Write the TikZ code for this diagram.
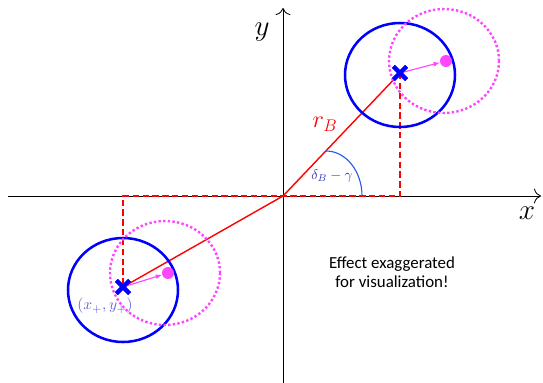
\documentclass[tikz,border=0pt]{standalone}
\usepackage{fontspec}
\newfontfamily\notefont{Carlito}
\usetikzlibrary{arrows.meta, shapes.misc}
\definecolor{spotpink}{RGB}{255,70,255}
\definecolor{anglecol}{RGB}{40,90,235}
\definecolor{anglelab}{RGB}{50,50,180}
\definecolor{poslab}{RGB}{95,95,225}
\tikzset{
    axisline/.style={semithick, -{To[length=5pt]}},
    footline/.style={red, line width=1pt, dash pattern=on 4.5pt off 2.5pt},
    bluering/.style={blue, line width=1.8pt},
    pinkring/.style={spotpink, line width=1.7pt, dash pattern=on 1.7pt off 1.6pt},
    xmark/.style={cross out, draw=blue, line width=2.8pt, minimum size=6.5pt, inner sep=0pt},
    spot/.style={circle, fill=spotpink, minimum size=8.5pt, inner sep=0pt},
    shiftarrow/.style={spotpink, thick, -{Latex[length=4.5pt, width=3.5pt]}}
}
\begin{document}
\begin{tikzpicture}[x=0.025cm, y=0.025cm]
    \useasboundingbox (-283,-186) rectangle (260,196);
    %%% Axes
    \coordinate (O) at (0,0);
    \coordinate (xstart) at (-275,0);
    \coordinate (xend) at (258,0);
    \coordinate (ystart) at (0,-188);
    \coordinate (yend) at (0,188);
    \draw[axisline] (xstart) -- (xend);
    \draw[axisline] (ystart) -- (yend);
    \node (xlabel) at (244,-17) {\huge $x$};
    \node (ylabel) at (-21,164) {\huge $y$};
    %
    %%% Projections and radius
    \coordinate (Afoot) at (117,0);
    \coordinate (Bfoot) at (-160,0);
    \node[xmark] (A) at (117,123) {};
    \node[xmark] (B) at (-160,-91) {};
    \draw[footline] (A.center) -- (Afoot) -- (Bfoot) -- (B.center);
    \draw[red, line width=1pt] (B.center) -- (O) -- (A.center);
    \node[red] (rlabel) at (42,72) {\LARGE $r_B$};
    %
    \coordinate (arcstart) at (43,45);
    \draw[anglecol, thick] (arcstart) arc[start angle=90, end angle=0, x radius=36, y radius=45];
    \node[anglelab] (anglelabel) at (49,20) {$\delta_B-\gamma$};
    %
    %%% Upper position
    \draw[bluering] (117,121) ellipse[x radius=55, y radius=52];
    \draw[pinkring] (161,135) ellipse[x radius=55, y radius=52];
    \node[spot] (Adot) at (163,135) {};
    \draw[shiftarrow] (A.center) -- (Adot);
    \node[xmark] at (A) {};
    %
    %%% Lower position
    \draw[bluering] (-160,-94) ellipse[x radius=55, y radius=52];
    \draw[pinkring] (-118,-77) ellipse[x radius=55, y radius=52];
    \node[spot] (Bdot) at (-115,-77) {};
    \draw[shiftarrow] (B.center) -- (Bdot);
    \node[xmark] at (B) {};
    \node[poslab] (Blabel) at (-178,-110) {\fontsize{11}{13}\selectfont $(x_+,y_+)$};
    %
    \node[align=center, font=\notefont\fontsize{12}{13.5}\selectfont] (note) at (109,-76) {Effect exaggerated\\for visualization!};
\end{tikzpicture}
\end{document}
